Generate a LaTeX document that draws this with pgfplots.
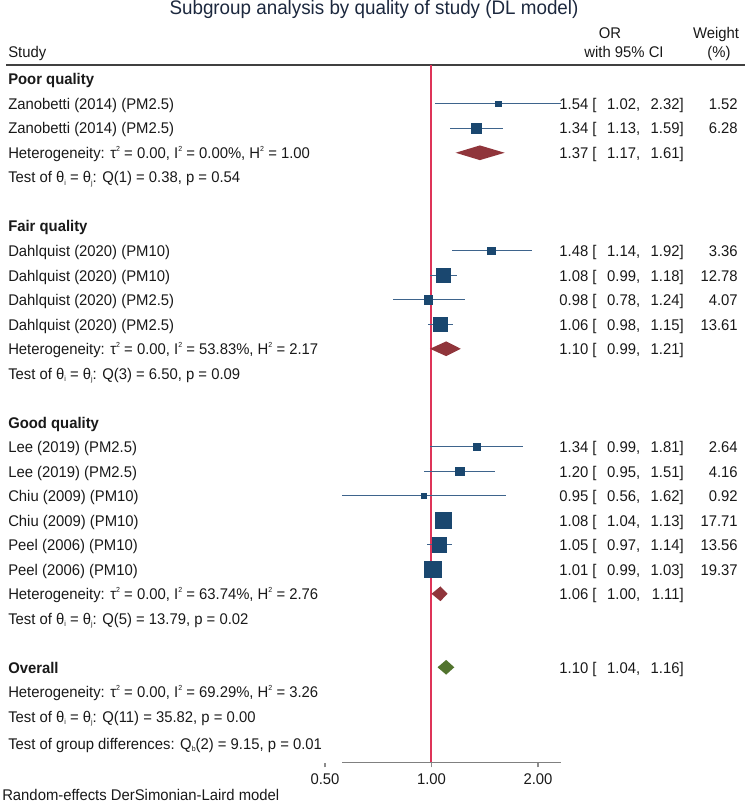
\documentclass[border=0pt]{standalone}
\usepackage{pgfplots}
\pgfplotsset{compat=1.18}
\usepackage{pgfplotstable}
\usepackage{fontspec}
\setmainfont[FakeStretch=0.96]{Liberation Sans}

\definecolor{navy}{RGB}{26,71,111}
\definecolor{cicol}{RGB}{62,100,140}
\definecolor{maroon}{RGB}{144,53,59}
\definecolor{forest}{RGB}{82,116,46}
\definecolor{refred}{RGB}{222,52,88}
\definecolor{txt}{RGB}{25,25,25}
\definecolor{ttl}{RGB}{28,40,62}

% study-level estimates: row, OR, lower, upper, weight (%)
\pgfplotstableread{
r  est  lo   hi   w
1  1.54 1.02 2.32 1.52
2  1.34 1.13 1.59 6.28
7  1.48 1.14 1.92 3.36
8  1.08 0.99 1.18 12.78
9  0.98 0.78 1.24 4.07
10 1.06 0.98 1.15 13.61
15 1.34 0.99 1.81 2.64
16 1.20 0.95 1.51 4.16
17 0.95 0.56 1.62 0.92
18 1.08 1.04 1.13 17.71
19 1.05 0.97 1.14 13.56
20 1.01 0.99 1.03 19.37
}\studies

% baseline of text row #1 (picture units: pixels from the top)
\newcommand\rb[1]{{85+24.5*(#1)}}
\newcommand\ci[3]{#1 [\makebox[2.55em][r]{#2},\makebox[2.55em][r]{#3}]}
\newcommand\sq{\raisebox{0.8ex}{\fontsize{5.5pt}{5.5pt}\selectfont 2}}
\newcommand\sub[1]{\raisebox{-0.35ex}{\fontsize{5.5pt}{5.5pt}\selectfont #1}}
\newcommand\het[3]{Heterogeneity: τ\sq{} = #1, I\sq{} = #2\%, H\sq{} = #3}
\newcommand\qtest[3]{Test of θ\sub{i} = θ\sub{j}: Q(#1) = #2, p = #3}
\newcommand\lab[2]{\node[anchor=base west] at (axis cs:8,\rb{#1}) {#2};}
\newcommand\vals[5]{%
  \node[anchor=base east] at (axis cs:684,\rb{#1}) {\ci{#2}{#3}{#4}};%
  \node[anchor=base east] at (axis cs:738,\rb{#1}) {#5};}
\newcommand\pooled[4]{%
  \node[anchor=base east] at (axis cs:684,\rb{#1}) {\ci{#2}{#3}{#4}};}

\begin{document}
\fontsize{11.6pt}{14pt}\selectfont
\begin{tikzpicture}
% frame in pixel units for all the text
\begin{axis}[name=frame, at={(0,0)}, anchor=south west,
  scale only axis, width=561.75pt, height=606.75pt,
  xmin=0, xmax=749, ymin=0, ymax=809, y dir=reverse,
  hide axis, clip=false]
  \coordinate (dsw) at (axis cs:325,762.7);
  \node[anchor=base, inner sep=0, text=ttl, font=\fontsize{14.7pt}{17pt}\selectfont]
     at (axis cs:374,15) {Subgroup analysis by quality of study (DL model)};
  \begin{scope}[every node/.style={inner sep=0, text=txt}]
  \node[anchor=base west] at (axis cs:8,58) {Study};
  \node[anchor=base] at (axis cs:610,39) {OR};
  \node[anchor=base] at (axis cs:624,58) {with 95\% CI};
  \node[anchor=base] at (axis cs:716,39) {Weight};
  \node[anchor=base] at (axis cs:719,58) {(\%)};
  \draw[black!75, line width=1pt] (axis cs:6,65) -- (axis cs:745,65);

  % left column
  \lab{0}{\textbf{Poor quality}}
  \lab{1}{Zanobetti (2014) (PM2.5)}
  \lab{2}{Zanobetti (2014) (PM2.5)}
  \lab{3}{\het{0.00}{0.00}{1.00}}
  \lab{4}{\qtest{1}{0.38}{0.54}}
  \lab{6}{\textbf{Fair quality}}
  \lab{7}{Dahlquist (2020) (PM10)}
  \lab{8}{Dahlquist (2020) (PM10)}
  \lab{9}{Dahlquist (2020) (PM2.5)}
  \lab{10}{Dahlquist (2020) (PM2.5)}
  \lab{11}{\het{0.00}{53.83}{2.17}}
  \lab{12}{\qtest{3}{6.50}{0.09}}
  \lab{14}{\textbf{Good quality}}
  \lab{15}{Lee (2019) (PM2.5)}
  \lab{16}{Lee (2019) (PM2.5)}
  \lab{17}{Chiu (2009) (PM10)}
  \lab{18}{Chiu (2009) (PM10)}
  \lab{19}{Peel (2006) (PM10)}
  \lab{20}{Peel (2006) (PM10)}
  \lab{21}{\het{0.00}{63.74}{2.76}}
  \lab{22}{\qtest{5}{13.79}{0.02}}
  \lab{24}{\textbf{Overall}}
  \lab{25}{\het{0.00}{69.29}{3.26}}
  \lab{26}{\qtest{11}{35.82}{0.00}}
  \node[anchor=base west] at (axis cs:8,749) {Test of group differences: Q\sub{b}(2) = 9.15, p = 0.01};
  \node[anchor=base west] at (axis cs:2,800) {Random-effects DerSimonian-Laird model};

  % estimate and weight columns
  \vals{1}{1.54}{1.02}{2.32}{1.52}
  \vals{2}{1.34}{1.13}{1.59}{6.28}
  \pooled{3}{1.37}{1.17}{1.61}
  \vals{7}{1.48}{1.14}{1.92}{3.36}
  \vals{8}{1.08}{0.99}{1.18}{12.78}
  \vals{9}{0.98}{0.78}{1.24}{4.07}
  \vals{10}{1.06}{0.98}{1.15}{13.61}
  \pooled{11}{1.10}{0.99}{1.21}
  \vals{15}{1.34}{0.99}{1.81}{2.64}
  \vals{16}{1.20}{0.95}{1.51}{4.16}
  \vals{17}{0.95}{0.56}{1.62}{0.92}
  \vals{18}{1.08}{1.04}{1.13}{17.71}
  \vals{19}{1.05}{0.97}{1.14}{13.56}
  \vals{20}{1.01}{0.99}{1.03}{19.37}
  \pooled{21}{1.06}{1.00}{1.11}
  \pooled{24}{1.10}{1.04}{1.16}
  \end{scope}
  % reference line at OR = 1 (pixel column of the 1.00 tick)
  \addplot[draw=refred, line width=1.1pt, mark=none]
    coordinates {(431,65) (431,762.7)};
\end{axis}

% the forest plot itself, log scale
\begin{axis}[at={(dsw)}, anchor=south west,
  scale only axis, width=176.85pt, height=523.3pt,
  xmode=log, log basis x=2, xmin=0.5, xmax=2.32,
  ymin=-27.894, ymax=0.584,
  axis line style={draw=none},
  ytick=\empty, xtick pos=bottom, xminorticks=false,
  xtick={0.5,1,2}, xticklabels={0.50,1.00,2.00},
  tick align=outside, major tick length=3.5pt,
  tick style={black!45, line width=0.8pt},
  xticklabel style={text=txt, yshift=-1pt},
  clip=false]
  % x axis line over the range of the intervals
  \addplot[draw=black!50, line width=1.1pt, mark=none]
    coordinates {(0.56,-27.894) (2.32,-27.894)};
  % confidence intervals
  \addplot[draw=none, mark=none, forget plot,
    error bars/.cd, x dir=both, x explicit, error mark=none,
    error bar style={draw=cicol, line width=0.9pt}]
    table[x=est, y expr=-\thisrow{r},
      x error plus expr=\thisrow{hi}-\thisrow{est},
      x error minus expr=\thisrow{est}-\thisrow{lo}] {\studies};
  % weighted squares
  \addplot[scatter, only marks, mark=square*,
    scatter/use mapped color={draw=navy, fill=navy},
    visualization depends on={0.6+1.3*sqrt(\thisrow{w}) \as \msz},
    scatter/@pre marker code/.append style={/tikz/mark size=\msz}]
    table[x=est, y expr=-\thisrow{r}] {\studies};
  % pooled estimates
  \addplot[draw=none, fill=maroon] coordinates {(1.17,-3) (1.37,-2.7) (1.61,-3) (1.37,-3.3)} -- cycle;
  \addplot[draw=none, fill=maroon] coordinates {(0.99,-11) (1.10,-10.7) (1.21,-11) (1.10,-11.3)} -- cycle;
  \addplot[draw=none, fill=maroon] coordinates {(1.00,-21) (1.06,-20.7) (1.11,-21) (1.06,-21.3)} -- cycle;
  \addplot[draw=none, fill=forest] coordinates {(1.04,-24) (1.10,-23.7) (1.16,-24) (1.10,-24.3)} -- cycle;
\end{axis}
\pgfresetboundingbox
\path[use as bounding box] (frame.south west) rectangle (frame.north east);
\end{tikzpicture}
\end{document}
